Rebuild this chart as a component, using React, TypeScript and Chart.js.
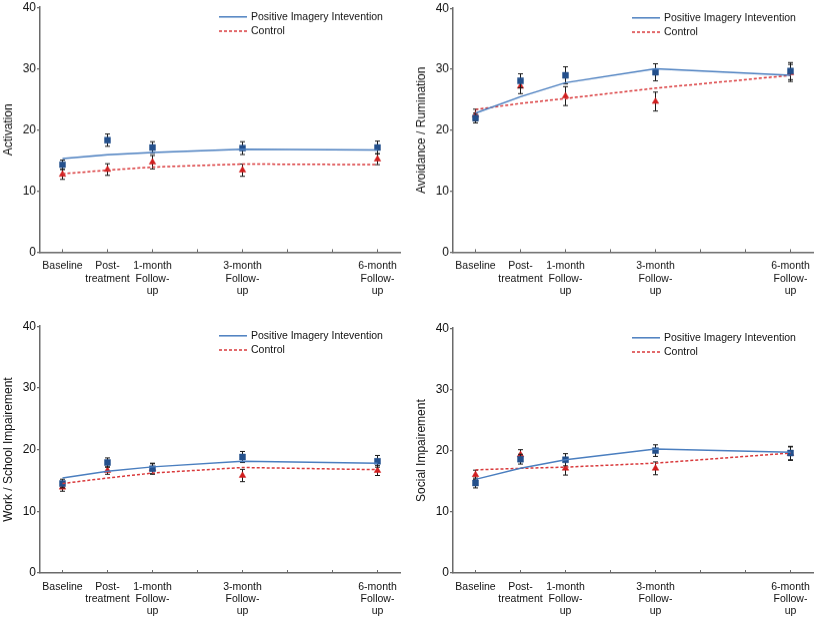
import { useEffect, useRef } from 'react';
import { Chart, registerables } from 'chart.js';

Chart.register(...registerables);

// months since baseline for each assessment
const timePoints = [0, 1, 2, 4, 7];
const tickLabels: (string | string[])[] = [
  'Baseline',
  ['Post-', 'treatment'],
  ['1-month', 'Follow-', 'up'],
  ['3-month', 'Follow-', 'up'],
  ['6-month', 'Follow-', 'up'],
];
const seriesNames = ['Positive Imagery Intevention', 'Control'];

const activationPiMean = [14.3, 18.3, 17.1, 17.0, 17.1];
const activationPiErr = [0.75, 1.0, 0.95, 1.05, 1.05];
const activationCtrlMean = [12.7, 13.5, 14.7, 13.4, 15.2];
const activationCtrlErr = [0.8, 0.95, 1.1, 1.0, 0.9];
const activationPiFit = [15.3, 15.9, 16.3, 16.8, 16.7];
const activationCtrlFit = [12.8, 13.4, 13.9, 14.4, 14.3];

const avoidancePiMean = [22.0, 28.1, 29.0, 29.5, 29.7];
const avoidancePiErr = [0.8, 1.15, 1.4, 1.4, 1.4];
const avoidanceCtrlMean = [22.5, 27.2, 25.6, 24.7, 29.4];
const avoidanceCtrlErr = [0.95, 1.2, 1.55, 1.55, 1.4];
const avoidancePiFit = [22.8, 25.5, 27.8, 30.1, 29.0];
const avoidanceCtrlFit = [23.4, 24.4, 25.2, 26.9, 29.0];

const workPiMean = [14.5, 17.9, 16.9, 18.8, 18.1];
const workPiErr = [0.7, 0.75, 0.9, 0.9, 0.95];
const workCtrlMean = [13.9, 16.6, 16.9, 15.8, 16.6];
const workCtrlErr = [0.65, 0.6, 0.8, 1.0, 0.8];
const workPiFit = [15.4, 16.5, 17.2, 18.1, 17.8];
const workCtrlFit = [14.5, 15.4, 16.2, 17.1, 16.75];

const socialPiMean = [14.7, 18.6, 18.5, 20.0, 19.6];
const socialPiErr = [0.8, 0.8, 1.0, 0.95, 1.1];
const socialCtrlMean = [16.05, 19.3, 17.1, 17.1, 19.5];
const socialCtrlErr = [0.75, 0.85, 1.1, 1.05, 1.1];
const socialPiFit = [15.3, 17.1, 18.5, 20.25, 19.75];
const socialCtrlFit = [16.85, 17.1, 17.3, 17.95, 19.6];

const FONT = '"Liberation Sans", Arial, Helvetica, sans-serif';
const TEXT = '#111111';
const AXIS = '#6a6a6a';
const BLUE_LINE = '#4a7ebf';
const RED_LINE = '#d9393b';
const BLUE_MARK = '#24508c';
const RED_MARK = '#d11f1f';

const toPoints = (ys: number[]) => timePoints.map((x, i) => ({ x, y: ys[i] }));

// vertical error bars under the markers
const errorBarPlugin = {
  id: 'errorBars',
  beforeDatasetDraw(chart: any, args: any) {
    const ds = chart.data.datasets[args.index];
    if (!ds.errorBars) return;
    const meta = chart.getDatasetMeta(args.index);
    const yScale = chart.scales.y;
    const ctx = chart.ctx;
    ctx.save();
    ctx.strokeStyle = '#1a1a1a';
    ctx.lineWidth = 1;
    meta.data.forEach((el: any, i: number) => {
      const v = ds.data[i].y;
      const e = ds.errorBars[i];
      const top = yScale.getPixelForValue(v + e);
      const bot = yScale.getPixelForValue(v - e);
      ctx.beginPath();
      ctx.moveTo(el.x, top);
      ctx.lineTo(el.x, bot);
      ctx.moveTo(el.x - 2.5, top);
      ctx.lineTo(el.x + 2.5, top);
      ctx.moveTo(el.x - 2.5, bot);
      ctx.lineTo(el.x + 2.5, bot);
      ctx.stroke();
    });
    ctx.restore();
  },
};

// small inward tick marks on the x axis
const innerTicksPlugin = {
  id: 'innerTicks',
  afterDraw(chart: any) {
    const x = chart.scales.x;
    const ctx = chart.ctx;
    ctx.save();
    ctx.strokeStyle = AXIS;
    ctx.lineWidth = 1;
    x.ticks.forEach((t: any) => {
      const px = x.getPixelForValue(t.value);
      ctx.beginPath();
      ctx.moveTo(px, x.top);
      ctx.lineTo(px, x.top - 3);
      ctx.stroke();
    });
    ctx.restore();
  },
};

const legendPlugin = {
  id: 'panelLegend',
  afterDraw(chart: any) {
    const { ctx, chartArea } = chart;
    const x0 = chartArea.left + 179;
    const rows = [chartArea.top + 9.6, chartArea.top + 23.8];
    const styles = [
      { color: BLUE_LINE, dash: [] as number[] },
      { color: RED_LINE, dash: [3, 2] },
    ];
    ctx.save();
    ctx.font = `10.5px ${FONT}`;
    ctx.textBaseline = 'middle';
    rows.forEach((y, i) => {
      ctx.strokeStyle = styles[i].color;
      ctx.lineWidth = 1.5;
      ctx.setLineDash(styles[i].dash);
      ctx.beginPath();
      ctx.moveTo(x0, y);
      ctx.lineTo(x0 + 28, y);
      ctx.stroke();
      ctx.setLineDash([]);
      ctx.fillStyle = TEXT;
      ctx.fillText(chart.data.datasets[i].label, x0 + 32, y + 0.5);
    });
    ctx.restore();
  },
};

interface PanelProps {
  title: string;
  piMean: number[];
  piErr: number[];
  ctrlMean: number[];
  ctrlErr: number[];
  piFit: number[];
  ctrlFit: number[];
  left: number;
  top: number;
  plotHeight: number;
}

const Panel: React.FC<PanelProps> = (p) => {
  const ref = useRef<HTMLCanvasElement>(null);
  const topPad = 8;
  const axisWidth = 40;
  const axisHeight = 60;

  useEffect(() => {
    if (!ref.current) return;
    const chart = new Chart(ref.current, {
      type: 'line',
      data: {
        datasets: [
          {
            label: seriesNames[0],
            data: toPoints(p.piFit),
            borderColor: BLUE_LINE,
            borderWidth: 1.5,
            pointRadius: 0,
            tension: 0,
          },
          {
            label: seriesNames[1],
            data: toPoints(p.ctrlFit),
            borderColor: RED_LINE,
            borderWidth: 1.5,
            borderDash: [3, 2],
            pointRadius: 0,
            tension: 0,
          },
          {
            label: seriesNames[0] + ' observed',
            data: toPoints(p.piMean),
            errorBars: p.piErr,
            showLine: false,
            pointStyle: 'rect',
            pointRadius: 4.2,
            pointBackgroundColor: BLUE_MARK,
            pointBorderColor: BLUE_MARK,
            pointBorderWidth: 0.5,
          } as any,
          {
            label: seriesNames[1] + ' observed',
            data: toPoints(p.ctrlMean),
            errorBars: p.ctrlErr,
            showLine: false,
            pointStyle: 'triangle',
            pointRadius: 3.8,
            pointBackgroundColor: RED_MARK,
            pointBorderColor: RED_MARK,
            pointBorderWidth: 0.5,
          } as any,
        ],
      },
      options: {
        animation: false,
        responsive: true,
        maintainAspectRatio: false,
        layout: { padding: { top: topPad, right: 12, left: 0, bottom: 0 } },
        plugins: { legend: { display: false }, tooltip: { enabled: false } },
        scales: {
          x: {
            type: 'linear',
            min: -0.5,
            max: 7.5,
            afterBuildTicks: (scale: any) => {
              scale.ticks = [0, 1, 2, 3, 4, 5, 6, 7].map((v) => ({ value: v }));
            },
            afterFit: (scale: any) => {
              scale.height = axisHeight;
            },
            grid: { display: false, drawTicks: false },
            border: { display: true, color: AXIS, width: 1.5 },
            ticks: {
              autoSkip: false,
              maxRotation: 0,
              padding: 8,
              color: TEXT,
              font: { family: FONT, size: 10.5, lineHeight: 1.16 },
              callback: (value: any) => {
                const i = timePoints.indexOf(Number(value));
                return i >= 0 ? tickLabels[i] : '';
              },
            },
          },
          y: {
            min: 0,
            max: 40,
            afterFit: (scale: any) => {
              scale.width = axisWidth;
            },
            grid: { drawOnChartArea: false, drawTicks: true, tickLength: 3, color: AXIS, lineWidth: 1.2 },
            border: { display: true, color: AXIS, width: 1.5 },
            ticks: {
              stepSize: 10,
              padding: 1,
              color: TEXT,
              font: { family: FONT, size: 12 },
            },
            title: {
              display: true,
              text: p.title,
              color: TEXT,
              font: { family: FONT, size: 12 },
              padding: { top: 1.5, bottom: 0 },
            },
          },
        },
      },
      plugins: [errorBarPlugin, innerTicksPlugin, legendPlugin],
    });
    return () => chart.destroy();
  }, [p]);

  return (
    <div
      style={{
        position: 'absolute',
        left: p.left - axisWidth,
        top: p.top - topPad,
        width: axisWidth + 360 + 12,
        height: topPad + p.plotHeight + axisHeight,
      }}
    >
      <canvas ref={ref} />
    </div>
  );
};

const panels: PanelProps[] = [
  {
    title: 'Activation',
    piMean: activationPiMean, piErr: activationPiErr,
    ctrlMean: activationCtrlMean, ctrlErr: activationCtrlErr,
    piFit: activationPiFit, ctrlFit: activationCtrlFit,
    left: 40, top: 7.3, plotHeight: 244.4,
  },
  {
    title: 'Avoidance / Rumination',
    piMean: avoidancePiMean, piErr: avoidancePiErr,
    ctrlMean: avoidanceCtrlMean, ctrlErr: avoidanceCtrlErr,
    piFit: avoidancePiFit, ctrlFit: avoidanceCtrlFit,
    left: 453.3, top: 8.3, plotHeight: 243.4,
  },
  {
    title: 'Work / School Impairement',
    piMean: workPiMean, piErr: workPiErr,
    ctrlMean: workCtrlMean, ctrlErr: workCtrlErr,
    piFit: workPiFit, ctrlFit: workCtrlFit,
    left: 40, top: 325.7, plotHeight: 247,
  },
  {
    title: 'Social Impairement',
    piMean: socialPiMean, piErr: socialPiErr,
    ctrlMean: socialCtrlMean, ctrlErr: socialCtrlErr,
    piFit: socialPiFit, ctrlFit: socialCtrlFit,
    left: 453.3, top: 328.3, plotHeight: 245,
  },
];

export default function App() {
  return (
    <div
      style={{
        position: 'absolute',
        left: 0,
        top: 0,
        width: 814,
        height: 617,
        overflow: 'hidden',
        background: '#fff',
      }}
    >
      {panels.map((p) => (
        <Panel key={p.title} {...p} />
      ))}
    </div>
  );
}
